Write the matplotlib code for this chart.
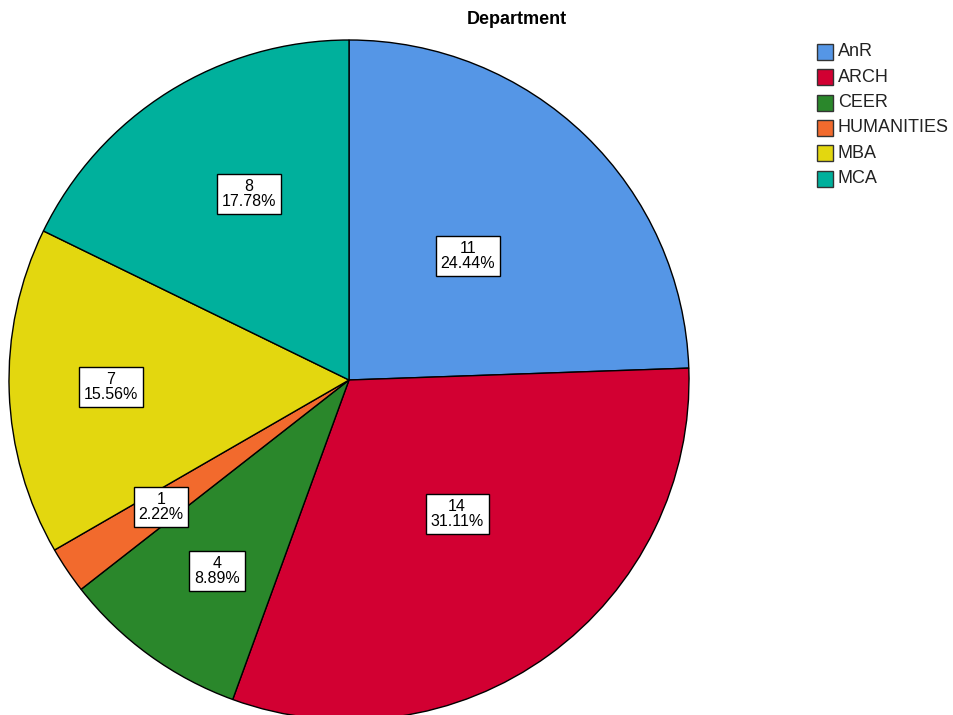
import matplotlib
matplotlib.use("Agg")
import matplotlib.pyplot as plt
from matplotlib.patches import Rectangle

# data
departments = ["AnR", "ARCH", "CEER", "HUMANITIES", "MBA", "MCA"]
counts = [11, 14, 4, 1, 7, 8]
colors = ["#5596E6", "#D20032", "#2A872B", "#F26A2D", "#E3D70F", "#00B09C"]
# label box centres, in units of the pie radius (as placed in the original)
label_xy = [(0.35, 0.365), (0.318, -0.394), (-0.388, -0.562),
            (-0.553, -0.374), (-0.70, -0.02), (-0.294, 0.547)]

plt.rcParams["font.family"] = ["Liberation Sans", "DejaVu Sans"]

W, H = 954, 715
fig = plt.figure(figsize=(W / 100, H / 100), dpi=100)

# pie: centre (349, 380) px, radius 340 px
cx, cy, r = 349, 380, 340
ax = fig.add_axes([(cx - r) / W, (H - cy - r) / H, 2 * r / W, 2 * r / H])

total = sum(counts)
wedges, _ = ax.pie(counts, colors=colors, startangle=90, counterclock=False,
                   radius=1, wedgeprops=dict(edgecolor="black", linewidth=1.0))
for w in wedges:
    w.set_clip_on(False)
ax.set_xlim(-1, 1)
ax.set_ylim(-1, 1)
ax.axis("off")

for n, (x, y) in zip(counts, label_xy):
    ax.text(x, y, f"{n}\n{n / total * 100:.2f}%", ha="center", va="center",
            fontsize=11.5, linespacing=1.0,
            bbox=dict(boxstyle="square,pad=0.3", fc="white", ec="black", lw=1.0))

fig.text(517 / W, 1 - 20 / H, "Department", ha="center", va="center",
         fontsize=13, fontweight="bold")

# legend
for i, (name, c) in enumerate(zip(departments, colors)):
    yc = 52 + i * 25.3
    fig.patches.append(Rectangle((817 / W, 1 - (yc + 8) / H), 16 / W, 16 / H,
                                 transform=fig.transFigure, fc=c, ec="#333333", lw=1.0))
    fig.text(838 / W, 1 - yc / H, name, ha="left", va="center", fontsize=13,
             color="#222222")

fig.savefig("out.png", dpi=100)
